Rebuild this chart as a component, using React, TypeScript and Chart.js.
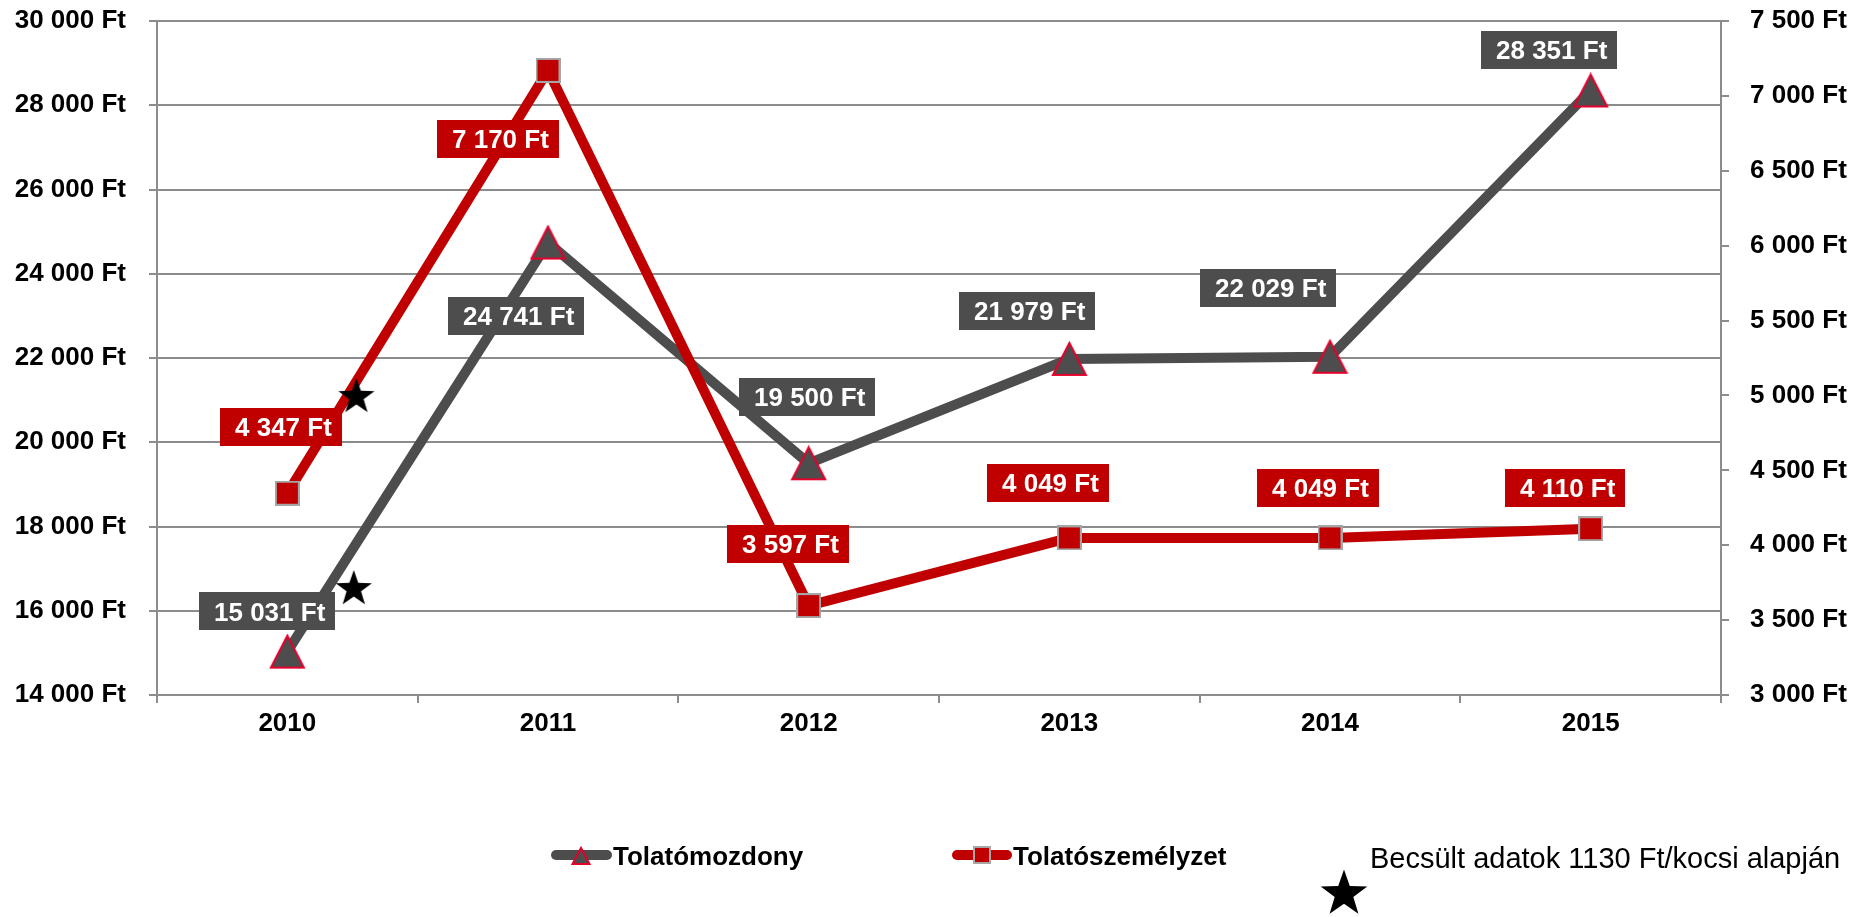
import React, { useEffect, useRef } from 'react';
import { Chart, registerables } from 'chart.js';
Chart.register(...registerables);

// ---- data ----
const years = ['2010', '2011', '2012', '2013', '2014', '2015'];
const locomotive = [15031, 24741, 19500, 21979, 22029, 28351]; // Tolatómozdony (left axis)
const crew = [4347, 7170, 3597, 4049, 4049, 4110]; // Tolatószemélyzet (right axis)
const seriesNames = ['Tolatómozdony', 'Tolatószemélyzet'];
const noteText = 'Becsült adatok 1130 Ft/kocsi alapján';
// estimated-data star markers (category position, left-axis value)
const starPos = [0.265, 0.255];
const starVal = [21100, 16540];
// axis ranges
const leftMin = 14000, leftMax = 30000, leftStep = 2000;
const rightMin = 3000, rightMax = 7500, rightStep = 500;

// ---- label placement (box centre offset from the point, px) ----
const locoLabelOffset = [[-20, -40.5], [-31.5, 73], [-2, -66.5], [-42, -48], [-62, -69], [-42, -40.5]];
const crewLabelOffset = [[-6, -66.5], [-50, 68.5], [-21, -62], [-21, -55], [-12, -50], [-25, -41]];

const GRAY = '#4d4d4d';
const RED = '#c00000';
const GRID = '#8c8c8c';
const FONT = "'Liberation Sans', Arial, sans-serif";

const fmt = (v: number) => String(v).replace(/\B(?=(\d{3})+(?!\d))/g, ' ') + ' Ft';

function starPath(ctx: CanvasRenderingContext2D, cx: number, cy: number, R: number, r: number) {
  ctx.beginPath();
  for (let i = 0; i < 10; i++) {
    const rad = i % 2 === 0 ? R : r;
    const a = -Math.PI / 2 + (i * Math.PI) / 5;
    const x = cx + Math.cos(a) * rad;
    const y = cy + Math.sin(a) * rad;
    if (i === 0) ctx.moveTo(x, y);
    else ctx.lineTo(x, y);
  }
  ctx.closePath();
}

function makeTriangle(w: number, h: number, lw: number) {
  const c = document.createElement('canvas');
  c.width = w + lw * 2;
  c.height = h + lw * 2;
  const g = c.getContext('2d')!;
  g.beginPath();
  g.moveTo(c.width / 2, lw);
  g.lineTo(c.width - lw, lw + h);
  g.lineTo(lw, lw + h);
  g.closePath();
  g.fillStyle = GRAY;
  g.fill();
  g.lineWidth = lw;
  g.strokeStyle = '#e4002b';
  g.stroke();
  return c;
}

function makeSquare(s: number, lw: number) {
  const c = document.createElement('canvas');
  c.width = s;
  c.height = s;
  const g = c.getContext('2d')!;
  g.fillStyle = RED;
  g.fillRect(0, 0, s, s);
  g.lineWidth = lw;
  g.strokeStyle = '#a6a6a6';
  g.strokeRect(lw / 2, lw / 2, s - lw, s - lw);
  return c;
}

function makeStar(size: number) {
  const c = document.createElement('canvas');
  c.width = size;
  c.height = size;
  const g = c.getContext('2d')!;
  starPath(g, size / 2, size / 2 + 1, size / 2 - 1, (size / 2 - 1) * 0.4);
  g.fillStyle = '#000';
  g.fill();
  return c;
}

const valueBoxes = {
  id: 'valueBoxes',
  afterDatasetsDraw(chart: any) {
    const ctx = chart.ctx as CanvasRenderingContext2D;
    const specs = [
      { idx: 0, values: locomotive, offsets: locoLabelOffset, color: GRAY },
      { idx: 1, values: crew, offsets: crewLabelOffset, color: RED },
    ];
    ctx.save();
    ctx.font = `bold 26px ${FONT}`;
    ctx.textAlign = 'left';
    ctx.textBaseline = 'alphabetic';
    specs.forEach((s) => {
      const meta = chart.getDatasetMeta(s.idx);
      meta.data.forEach((el: any, i: number) => {
        const txt = fmt(s.values[i]);
        const tw = ctx.measureText(txt).width;
        const w = tw + 25;
        const h = 38;
        const cx = el.x + s.offsets[i][0];
        const cy = el.y + s.offsets[i][1];
        const left = Math.round(cx - w / 2);
        ctx.fillStyle = s.color;
        ctx.fillRect(left, Math.round(cy - h / 2), Math.round(w), h);
        ctx.fillStyle = '#fff';
        ctx.fillText(txt, left + 15, cy + 9.5);
      });
    });
    ctx.restore();
  },
};

const customLegend = {
  id: 'customLegend',
  afterDraw(chart: any) {
    const ctx = chart.ctx as CanvasRenderingContext2D;
    ctx.save();
    const y = 855;
    // item 1
    ctx.lineCap = 'round';
    ctx.lineWidth = 10;
    ctx.strokeStyle = GRAY;
    ctx.beginPath();
    ctx.moveTo(556, y);
    ctx.lineTo(607, y);
    ctx.stroke();
    ctx.beginPath();
    ctx.moveTo(581, 848);
    ctx.lineTo(589.5, 864);
    ctx.lineTo(572.5, 864);
    ctx.closePath();
    ctx.fillStyle = GRAY;
    ctx.fill();
    ctx.lineWidth = 2;
    ctx.lineCap = 'butt';
    ctx.strokeStyle = '#e4002b';
    ctx.stroke();
    ctx.font = `bold 26px ${FONT}`;
    ctx.fillStyle = '#000';
    ctx.textAlign = 'left';
    ctx.textBaseline = 'alphabetic';
    ctx.fillText(seriesNames[0], 613, 865);
    // item 2
    ctx.lineCap = 'round';
    ctx.lineWidth = 10;
    ctx.strokeStyle = RED;
    ctx.beginPath();
    ctx.moveTo(957, y);
    ctx.lineTo(1007, y);
    ctx.stroke();
    ctx.fillStyle = RED;
    ctx.fillRect(973, 846, 18, 18);
    ctx.lineWidth = 2;
    ctx.strokeStyle = '#a6a6a6';
    ctx.strokeRect(974, 847, 16, 16);
    ctx.fillStyle = '#000';
    ctx.fillText(seriesNames[1], 1013, 865);
    // item 3
    starPath(ctx, 1344, 894, 24.5, 9.8);
    ctx.fillStyle = '#000';
    ctx.fill();
    ctx.font = `29px ${FONT}`;
    ctx.fillText(noteText, 1370, 868);
    ctx.restore();
  },
};

const noVerticalPadding = (s: any) => {
  s.paddingTop = 0;
  s.paddingBottom = 0;
};

export default function App() {
  const ref = useRef<HTMLCanvasElement | null>(null);
  useEffect(() => {
    if (!ref.current) return;
    const tri = makeTriangle(33, 32, 2);
    const sq = makeSquare(25, 2);
    const star = makeStar(40);
    const chart = new Chart(ref.current, {
      type: 'line',
      data: {
        labels: years,
        datasets: [
          {
            label: seriesNames[0],
            data: locomotive,
            yAxisID: 'y',
            xAxisID: 'x',
            borderColor: GRAY,
            backgroundColor: GRAY,
            borderWidth: 10,
            borderJoinStyle: 'round',
            pointStyle: tri as any,
            pointRadius: 17,
            order: 2,
          },
          {
            label: seriesNames[1],
            data: crew,
            yAxisID: 'y1',
            xAxisID: 'x',
            borderColor: RED,
            backgroundColor: RED,
            borderWidth: 10,
            borderJoinStyle: 'round',
            pointStyle: sq as any,
            pointRadius: 13,
            order: 1,
          },
          {
            type: 'scatter',
            label: 'stars',
            data: starPos.map((x, i) => ({ x, y: starVal[i] })),
            xAxisID: 'xs',
            yAxisID: 'y',
            pointStyle: star as any,
            pointRadius: 20,
            showLine: false,
            order: 0,
          } as any,
        ],
      },
      options: {
        responsive: false,
        animation: false,
        devicePixelRatio: 1,
        layout: { autoPadding: false, padding: { top: 21, left: 0, right: 0, bottom: 162 } },
        plugins: { legend: { display: false }, tooltip: { enabled: false } },
        font: { family: FONT } as any,
        scales: {
          x: {
            type: 'category',
            offset: true,
            grid: { drawOnChartArea: false, offset: true, tickLength: 8, color: GRID, lineWidth: 2 },
            border: { display: true, color: GRID, width: 2 },
            ticks: { font: { family: FONT, size: 26, weight: 'bold' }, color: '#000', padding: 5 },
            afterFit: (s: any) => { s.height = 60; s.paddingLeft = 0; s.paddingRight = 0; },
          },
          xs: {
            type: 'linear',
            display: false,
            min: -0.5,
            max: 5.5,
          },
          y: {
            position: 'left',
            min: leftMin,
            max: leftMax,
            ticks: {
              stepSize: leftStep,
              font: { family: FONT, size: 26, weight: 'bold' },
              color: '#000',
              padding: 23,
              callback: (v: any) => fmt(Number(v)),
            },
            grid: { color: GRID, lineWidth: 2, tickLength: 8 },
            border: { display: true, color: GRID, width: 2 },
            afterFit: (s: any) => { s.width = 157; noVerticalPadding(s); },
          },
          y1: {
            position: 'right',
            min: rightMin,
            max: rightMax,
            ticks: {
              stepSize: rightStep,
              font: { family: FONT, size: 26, weight: 'bold' },
              color: '#000',
              padding: 21,
              callback: (v: any) => fmt(Number(v)),
            },
            grid: { drawOnChartArea: false, color: GRID, lineWidth: 2, tickLength: 8 },
            border: { display: true, color: GRID, width: 2 },
            afterFit: (s: any) => { s.width = 149; noVerticalPadding(s); },
          },
        },
      } as any,
      plugins: [valueBoxes, customLegend],
    });
    return () => chart.destroy();
  }, []);
  return (
    <div style={{ position: 'fixed', left: 0, top: 0, width: 1870, height: 917, background: '#fff' }}>
      <canvas ref={ref} width={1870} height={917} style={{ width: 1870, height: 917, display: 'block' }} />
    </div>
  );
}
